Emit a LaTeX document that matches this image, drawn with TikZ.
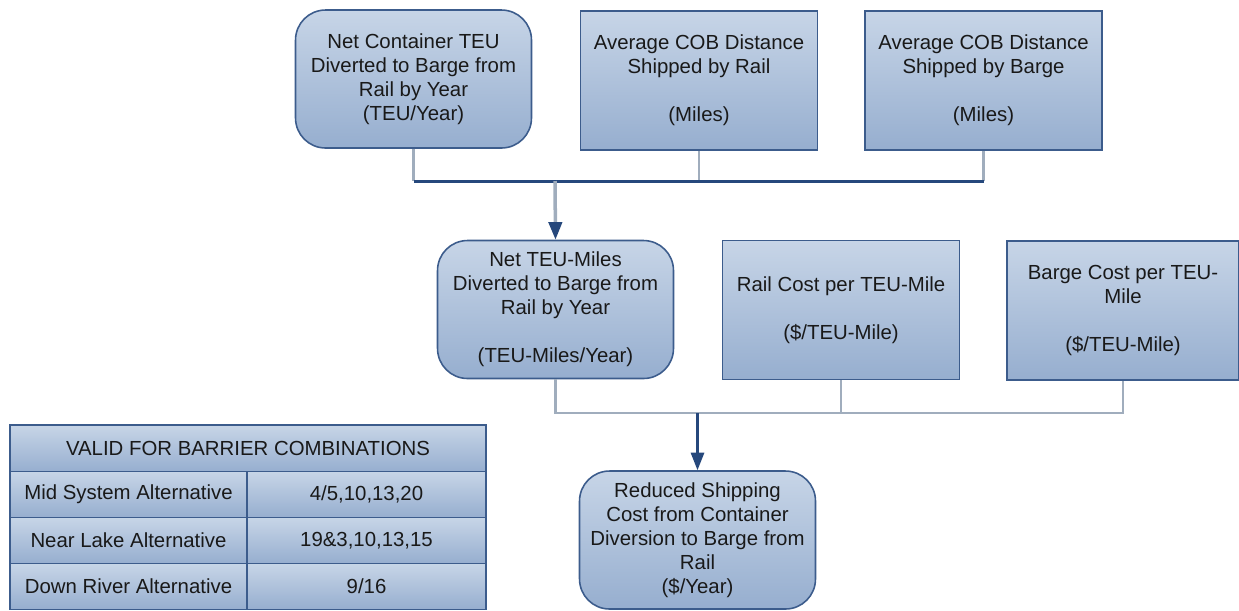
\documentclass[tikz,border=0pt]{standalone}
\usepackage{fontspec}
\setmainfont{Liberation Sans}
\usetikzlibrary{arrows.meta}

\definecolor{boxtop}{RGB}{199,213,231}
\definecolor{boxbot}{RGB}{150,174,207}
\definecolor{boxline}{RGB}{60,92,140}
\definecolor{linkgray}{RGB}{160,173,189}
\definecolor{linkblue}{RGB}{38,72,124}

\begin{document}
\begin{tikzpicture}[
    x=0.02cm, y=-0.02cm,
    every node/.style={font=\fontsize{11.6}{13.6}\selectfont, align=center, text=black!90},
    roundbox/.style={draw=boxline, line width=0.9pt, top color=boxtop, bottom color=boxbot, rounded corners=0.6cm, minimum width=4.72cm, minimum height=2.76cm, inner sep=0pt},
    sqbox/.style={draw=boxline, line width=0.9pt, top color=boxtop, bottom color=boxbot, minimum width=4.74cm, minimum height=2.78cm, inner sep=0pt},
    cell/.style={draw=boxline, line width=0.8pt, top color=boxtop, bottom color=boxbot, minimum height=0.92cm, inner sep=0pt},
    feed/.style={draw=linkgray, line width=1.5pt},
    bus/.style={draw=linkblue, line width=1.7pt},
    flow/.style={-{Triangle[length=10pt, width=7.5pt, color=linkblue]}, line width=1.3pt},
]
\useasboundingbox (0,0) rectangle (1239,610);

% Top row (inputs)
\node[roundbox] (teu)      at (413.5, 79)  {Net Container TEU\\Diverted to Barge from\\Rail by Year\\(TEU/Year)};
\node[sqbox]    (cobrail)  at (699, 80.5)  {Average COB Distance\\Shipped by Rail\\[13.6pt](Miles)};
\node[sqbox]    (cobbarge) at (983.5, 80.5) {Average COB Distance\\Shipped by Barge\\[13.6pt](Miles)};

% Middle row
\node[roundbox] (teumiles) at (555.5, 309.5) {Net TEU-Miles\\Diverted to Barge from\\Rail by Year\\[13.6pt](TEU-Miles/Year)};
\node[sqbox]    (railcost)  at (841, 310)  {Rail Cost per TEU-Mile\\[13.6pt](\$/TEU-Mile)};
\node[sqbox, minimum width=4.64cm] (bargecost) at (1123, 310.5) {Barge Cost per TEU-\\Mile\\[13.6pt](\$/TEU-Mile)};

% Result
\node[roundbox] (saving) at (697.5, 540) {Reduced Shipping\\Cost from Container\\Diversion to Barge from\\Rail\\(\$/Year)};

% Connectors, first level
\coordinate (j1) at (555, 181);
\draw[feed] (teu.south) -- (teu.south |- j1);
\draw[feed] (cobrail.south) -- (cobrail.south |- j1);
\draw[feed] (cobbarge.south) -- (cobbarge.south |- j1);
\draw[bus] (teu.south |- j1) -- (cobbarge.south |- j1);
\draw[flow, linkgray, line width=2pt] (j1) -- (teumiles.north);

% Connectors, second level
\coordinate (j2) at (697.5, 413);
\draw[feed] (teumiles.south) |- (bargecost.south |- j2) -- (bargecost.south);
\draw[feed] (railcost.south) -- (railcost.south |- j2);
\draw[flow, linkblue] (j2) -- (saving.north);

% Table of barrier combinations
\node[cell, minimum width=9.52cm, minimum height=0.94cm] (valid) at (248, 448.5) {VALID FOR BARRIER COMBINATIONS};
\node[cell, minimum width=4.74cm] (mid)     at (128.5, 494.5) {Mid System Alternative};
\node[cell, minimum width=4.78cm] (midset)  at (366.5, 494.5) {4/5,10,13,20};
\node[cell, minimum width=4.74cm] (near)    at (128.5, 540.5) {Near Lake Alternative};
\node[cell, minimum width=4.78cm] (nearset) at (366.5, 540.5) {19\&3,10,13,15};
\node[cell, minimum width=4.74cm] (down)    at (128.5, 586.5) {Down River Alternative};
\node[cell, minimum width=4.78cm] (downset) at (366.5, 586.5) {9/16};

\end{tikzpicture}
\end{document}
